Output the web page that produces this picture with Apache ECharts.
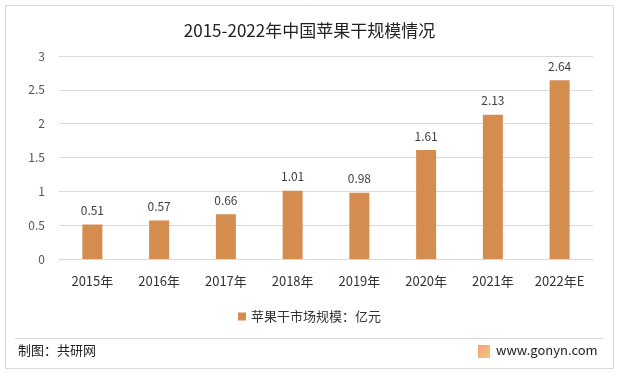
<!DOCTYPE html>
<html>
<head>
<meta charset="utf-8">
<script src="https://cdn.jsdelivr.net/npm/echarts@6/dist/echarts.min.js"></script>
<style>
  html, body { margin: 0; padding: 0; background: #fff; }
  #chart { width: 619px; height: 376px; }
</style>
</head>
<body>
<div id="chart"></div>
<script>
// 数据
const years = ['2015年', '2016年', '2017年', '2018年', '2019年', '2020年', '2021年', '2022年E'];
const scale = [0.51, 0.57, 0.66, 1.01, 0.98, 1.61, 2.13, 2.64];
const seriesName = '苹果干市场规模：亿元';
const titleText = '2015-2022年中国苹果干规模情况';

const fontFamily = '"Noto Sans CJK SC", "Noto Sans", sans-serif';
const barColor = '#D58C4F';

const chart = echarts.init(document.getElementById('chart'));
const option = {
  animation: false,
  textStyle: { fontFamily: fontFamily },
  title: {
    text: titleText,
    left: 'center',
    top: 17,
    textStyle: { fontSize: 17, fontWeight: 'normal', color: '#222', fontFamily: fontFamily }
  },
  legend: {
    data: [seriesName],
    bottom: 48,
    left: 'center',
    itemWidth: 8,
    itemHeight: 8,
    itemGap: 4,
    icon: 'rect',
    textStyle: { fontSize: 13, color: '#333', fontFamily: fontFamily }
  },
  grid: {
    top: 56,
    left: 59,
    right: 26,
    bottom: 117
  },
  xAxis: {
    type: 'category',
    data: years,
    axisTick: { show: false },
    axisLine: { lineStyle: { color: '#d9d9d9' } },
    axisLabel: { fontSize: 13, color: '#333', margin: 16 }
  },
  yAxis: {
    type: 'value',
    min: 0,
    max: 3,
    interval: 0.5,
    axisLine: { show: false },
    axisTick: { show: false },
    axisLabel: { fontSize: 12, color: '#555', margin: 14 },
    splitLine: { lineStyle: { color: '#d9d9d9', width: 1 } }
  },
  series: [{
    name: seriesName,
    type: 'bar',
    data: scale,
    barWidth: 20,
    itemStyle: { color: barColor },
    label: {
      show: true,
      position: 'top',
      distance: 8,
      fontSize: 12,
      color: '#404040'
    }
  }],
  graphic: [
    // 外边框
    {
      type: 'rect',
      shape: { x: 5.5, y: 5.5, width: 608, height: 363 },
      style: { fill: 'none', stroke: '#d9d9d9', lineWidth: 1 },
      silent: true
    },
    // 分隔线
    {
      type: 'line',
      shape: { x1: 15, y1: 338.5, x2: 603, y2: 338.5 },
      style: { stroke: '#d9d9d9', lineWidth: 1 }
    },
    {
      type: 'text',
      left: 18,
      top: 344,
      style: { text: '制图：共研网', fontSize: 13, fill: '#222', fontFamily: fontFamily }
    },
    // logo
    {
      type: 'rect',
      shape: { x: 478, y: 345, width: 12, height: 13 },
      style: {
        fill: new echarts.graphic.LinearGradient(0, 0, 1, 1, [
          { offset: 0, color: '#f3a07a' },
          { offset: 1, color: '#f6c77a' }
        ])
      }
    },
    {
      type: 'text',
      left: 496,
      top: 344,
      style: { text: 'www.gonyn.com', fontSize: 13, fill: '#222', fontFamily: fontFamily }
    }
  ]
};
chart.setOption(option);
</script>
</body>
</html>
